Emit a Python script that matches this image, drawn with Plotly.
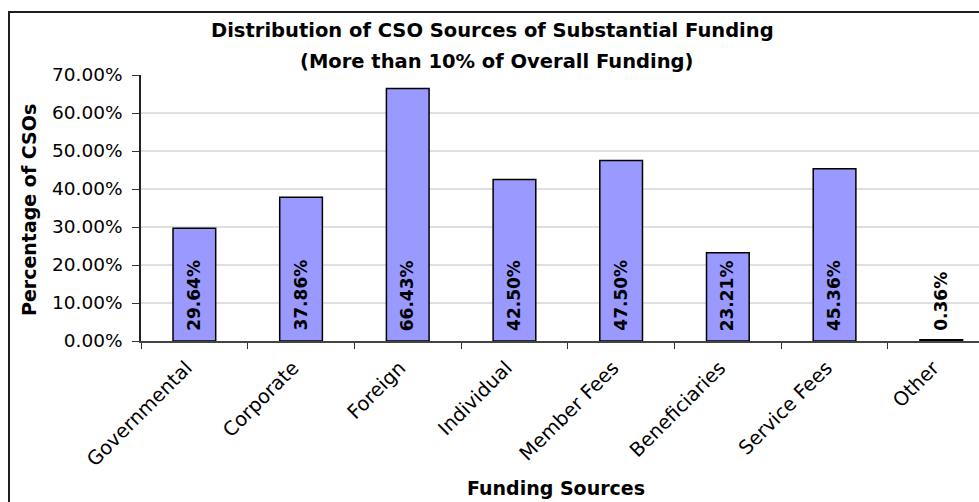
import plotly.graph_objects as go

# Funding sources and share of CSOs reporting each as substantial (>10% of funding)
categories = ["Governmental", "Corporate", "Foreign", "Individual",
              "Member Fees", "Beneficiaries", "Service Fees", "Other"]
shares = [29.64, 37.86, 66.43, 42.50, 47.50, 23.21, 45.36, 0.36]
y_ticks = [0, 10, 20, 30, 40, 50, 60, 70]
y_tick_text = [f"{v:.2f}%" for v in y_ticks]

FONT = "DejaVu Sans"
W, H = 979, 502
L, T, B = 141, 75, 161
plot_w = W - L
plot_h = H - T - B
cat_px = 106.7  # width of one category slot


def px_x(x):
    return (x - L) / plot_w


def px_y(y):
    return (H - B - y) / plot_h


fig = go.Figure()
fig.add_trace(go.Bar(
    x=categories,
    y=shares,
    marker=dict(color="#9999FF", line=dict(color="#000000", width=1.5)),
    width=0.4,
    hoverinfo="skip",
))

# vertical value labels sitting at the base of each bar
for c, v in zip(categories, shares):
    fig.add_annotation(
        x=c, y=0, xref="x", yref="y",
        text=f"<b>{v:.2f}%</b>", textangle=-90,
        showarrow=False, xanchor="center", yanchor="bottom", yshift=8,
        xshift=-1,
        font=dict(family=FONT, size=17, color="#000000"),
    )

# horizontal gridlines at the interior ticks
for v in y_ticks[1:-1]:
    fig.add_shape(type="line", xref="paper", yref="y", x0=0, x1=1, y0=v, y1=v,
                  line=dict(color="#C0C0C0", width=1), layer="below")

# chart-area frame
fig.add_shape(type="rect", xref="paper", yref="paper",
              x0=px_x(9), x1=1.2, y0=-1.0, y1=px_y(12),
              line=dict(color="#1E1E1E", width=2), fillcolor="rgba(0,0,0,0)")

fig.add_annotation(x=px_x(492), y=px_y(31), xref="paper", yref="paper",
                   text="<b>Distribution of CSO Sources of Substantial Funding</b>",
                   showarrow=False, xanchor="center", yanchor="middle",
                   font=dict(family=FONT, size=19.5, color="#000000"))
fig.add_annotation(x=px_x(496), y=px_y(61), xref="paper", yref="paper",
                   text="<b>(More than 10% of Overall Funding)</b>",
                   showarrow=False, xanchor="center", yanchor="middle",
                   font=dict(family=FONT, size=19.5, color="#000000"))
fig.add_annotation(x=px_x(29), y=px_y(210), xref="paper", yref="paper",
                   text="<b>Percentage of CSOs</b>", textangle=-90,
                   showarrow=False, xanchor="center", yanchor="middle",
                   font=dict(family=FONT, size=19, color="#000000"))
fig.add_annotation(x=px_x(556), y=px_y(488), xref="paper", yref="paper",
                   text="<b>Funding Sources</b>",
                   showarrow=False, xanchor="center", yanchor="middle",
                   font=dict(family=FONT, size=19, color="#000000"))

fig.update_layout(
    width=W, height=H,
    margin=dict(l=L, r=0, t=T, b=B, pad=0),
    paper_bgcolor="#FFFFFF", plot_bgcolor="#FFFFFF",
    showlegend=False,
    bargap=0.6,
    font=dict(family=FONT, size=18, color="#000000"),
)
fig.update_xaxes(
    type="category",
    range=[-0.5, -0.5 + plot_w / cat_px],
    tickson="boundaries", ticks="outside", ticklen=6, tickwidth=1,
    tickcolor="#333333", tickangle=-45,
    ticklabelshift=-8, ticklabelstandoff=6,
    tickfont=dict(family=FONT, size=19.5, color="#000000"),
    showline=True, linecolor="#444444", linewidth=1.5,
    showgrid=False, automargin=False, fixedrange=True,
)
fig.update_yaxes(
    range=[0, 70],
    tickvals=y_ticks, ticktext=y_tick_text,
    ticks="outside", ticklen=7, tickwidth=1, tickcolor="#333333",
    ticklabelstandoff=6,
    tickfont=dict(family=FONT, size=18.5, color="#000000"),
    showline=True, linecolor="#222222", linewidth=1.5,
    showgrid=False, zeroline=False, automargin=False, fixedrange=True,
)

fig.write_html("out.html", config={"displayModeBar": False})
